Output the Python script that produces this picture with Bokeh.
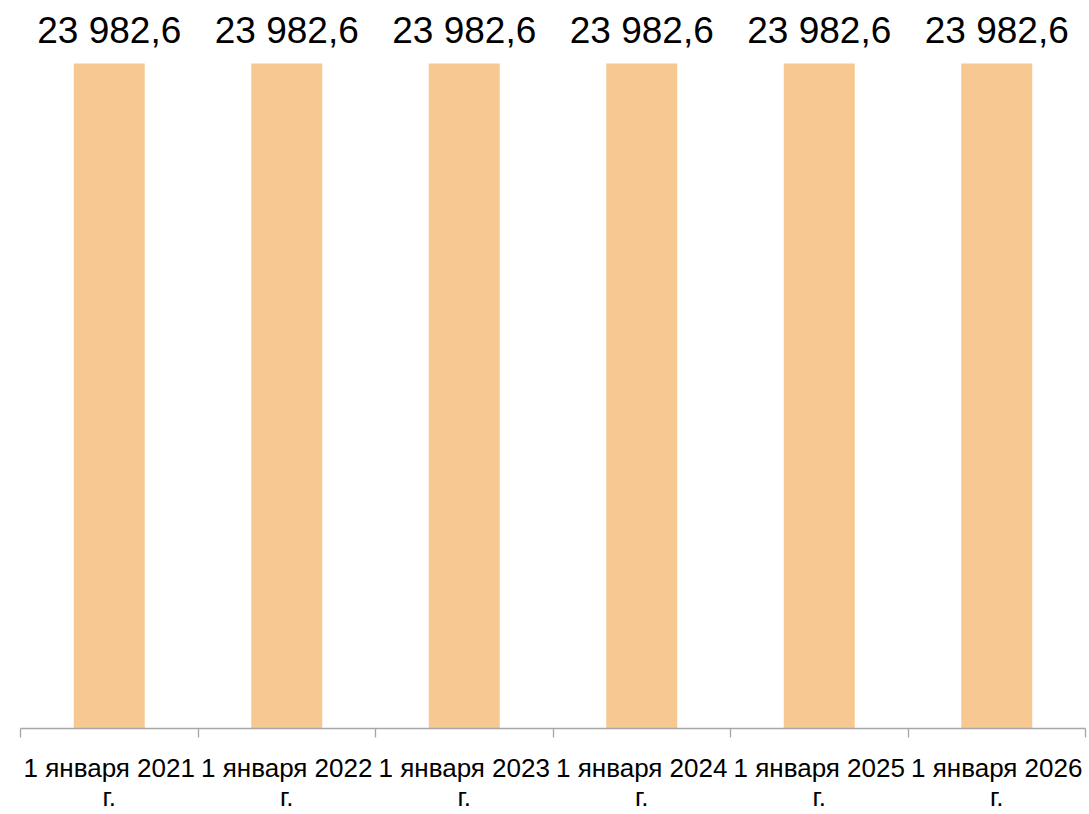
from bokeh.plotting import figure
from bokeh.models import ColumnDataSource, FixedTicker, Range1d, LinearAxis
from bokeh.core.properties import value
from bokeh.embed import file_html
from bokeh.resources import INLINE

categories = ["1 января 2021 г.", "1 января 2022 г.", "1 января 2023 г.",
              "1 января 2024 г.", "1 января 2025 г.", "1 января 2026 г."]
values = [23982.6, 23982.6, 23982.6, 23982.6, 23982.6, 23982.6]
value_labels = ["23 982,6", "23 982,6", "23 982,6", "23 982,6", "23 982,6", "23 982,6"]

n = len(categories)
xs = [i + 0.5 for i in range(n)]
line1 = [c.rsplit(" ", 1)[0] for c in categories]
line2 = [c.rsplit(" ", 1)[1] for c in categories]
src = ColumnDataSource(dict(x=xs, top=values, lab=value_labels))

p = figure(width=1088, height=814, output_backend="svg", toolbar_location=None,
           x_range=Range1d(0, n), y_range=Range1d(0, max(values) * 728 / 665),
           min_border_left=20, min_border_right=3, min_border_top=0, min_border_bottom=86)
p.outline_line_color = None
p.grid.visible = False
p.yaxis.visible = False
p.background_fill_color = "white"

p.vbar(x="x", top="top", bottom=0, width=0.4, source=src, fill_color="#F7C891", line_color=None)
p.text(x="x", y="top", text="lab", source=src, text_align="center", text_baseline="alphabetic",
       y_offset=-33, text_font=value("Liberation Sans"), text_font_size="37px", text_color="black")


def style_labels(a):
    a.major_label_text_font = "Liberation Sans"
    a.major_label_text_font_size = "26px"
    a.major_label_text_color = "black"


ax = p.xaxis[0]
ax.ticker = FixedTicker(ticks=xs, minor_ticks=list(range(n + 1)))
ax.major_label_overrides = {x: t for x, t in zip(xs, line1)}
ax.axis_line_color = "#A6A6A6"
ax.axis_line_width = 1.3
ax.major_tick_out = 0
ax.major_tick_in = 0
ax.minor_tick_out = 9
ax.minor_tick_in = 0
ax.minor_tick_line_color = "#A6A6A6"
ax.minor_tick_line_width = 1.3
ax.major_label_standoff = 15
style_labels(ax)

ax2 = LinearAxis(ticker=FixedTicker(ticks=xs, minor_ticks=[]),
                 major_label_overrides={x: t for x, t in zip(xs, line2)})
ax2.axis_line_color = None
ax2.major_tick_line_color = None
ax2.minor_tick_line_color = None
ax2.major_tick_out = 0
ax2.major_tick_in = 0
ax2.minor_tick_out = 0
ax2.minor_tick_in = 0
ax2.major_label_standoff = -4
style_labels(ax2)
p.add_layout(ax2, "below")

open("out.html", "w").write(file_html(p, INLINE))
